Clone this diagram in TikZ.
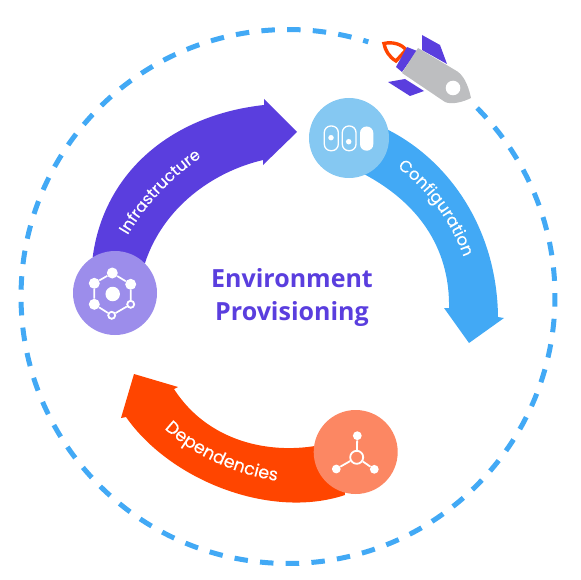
\documentclass[tikz,border=0pt]{standalone}
\usepackage{fontspec}
\usetikzlibrary{decorations.text}
\newfontfamily\titlefont{Open Sans}
\newfontfamily\labelfont[FakeBold=0.15]{Poppins}
\definecolor{violet1}{HTML}{5A3EDE}
\definecolor{violet2}{HTML}{9C8DEB}
\definecolor{sky1}{HTML}{42A9F5}
\definecolor{sky2}{HTML}{85C8F2}
\definecolor{fire1}{HTML}{FF4500}
\definecolor{fire2}{HTML}{FC8763}
\definecolor{rocketgray}{HTML}{BDBEC0}
\tikzset{
  badge/.style={circle,inner sep=0pt,minimum size=#1},
  dotw/.style={circle,fill=white,inner sep=0pt,minimum size=#1},
  ringw/.style={circle,draw=white,line width=1.8pt,inner sep=0pt,minimum size=#1},
  link/.style={white,line width=1.7pt},
  caps/.style={draw=white,line width=1.3pt,rounded corners=6.5pt},
  curved/.style={decorate,decoration={text along path,text align=center,text={#1}}},
}
\begin{document}
\begin{tikzpicture}[x=1pt,y=-1pt]
\useasboundingbox (0,0) rectangle (580,580);
% dashed orbit
\draw[sky1,line width=5pt,dash pattern=on 13.5pt off 12.23pt]
  (288,296.5) ++(-44.9:267) arc[start angle=-44.9,end angle=287.5,radius=267];
% arrows
\fill[violet1] (92.7,257) .. controls (104,172) and (172,115) .. (264,105)
  -- (264,99) -- (297,132) -- (263,165) -- (263,160)
  .. controls (212,172) and (163,208) .. (145,263) -- cycle;
\fill[sky1] (380,126) .. controls (445,155) and (497,225) .. (498,317)
  -- (504,318) -- (469,343) -- (444,308) -- (449,308)
  .. controls (450,255) and (425,205) .. (360,172) -- cycle;
\fill[fire1] (340,440) .. controls (285,458) and (212,448) .. (174,389)
  -- (178,387) -- (134,374) -- (121,418) -- (126,417)
  .. controls (170,480) and (270,520) .. (345,495) -- cycle;
% badges
\node[badge=84pt,fill=violet2] (infra) at (115,293) {};
\node[badge=80pt,fill=sky2] (config) at (349,138) {};
\node[badge=84pt,fill=fire2] (deps) at (355.7,452) {};
% infrastructure icon
\node[dotw=11pt] (h1) at (112.3,273) {};
\node[dotw=11pt] (h2) at (130.7,284.3) {};
\node[ringw=7pt,fill=violet2] (h3) at (130.7,304.3) {};
\node[ringw=7pt,fill=violet2] (h4) at (111.7,315.3) {};
\node[dotw=11pt] (h5) at (94.3,304.3) {};
\node[dotw=11pt] (h6) at (94.3,283.3) {};
\draw[link] (h1)--(h2) (h2)--(h3) (h3)--(h4) (h4)--(h5) (h5)--(h6) (h6)--(h1);
\node[dotw=14.5pt] (hc) at (112.7,294) {};
% configuration icon
\draw[caps] (324.3,126) rectangle (338.3,150.7);
\draw[caps] (342.3,126) rectangle (356,150.7);
\fill[white,rounded corners=6.5pt] (360,126.5) rectangle (373.3,150.7);
\node[dotw=5.5pt] (c1) at (331,137.7) {};
\node[dotw=5.5pt] (c2) at (348.7,141.7) {};
% dependencies icon
\node[ringw=13pt] (dc) at (356.7,457.3) {};
\node[dotw=8.8pt] (d1) at (357.3,435.7) {};
\node[dotw=8.8pt] (d2) at (336.3,469) {};
\node[dotw=8.8pt] (d3) at (374.3,469.3) {};
\draw[link,line width=1.8pt] (dc)--(d1) (dc)--(d2) (dc)--(d3);
% labels on arrows
\path[curved={|\labelfont\fontsize{16}{16}\selectfont\color{white}|Infrastructure}]
  (125,240) .. controls (141,211) and (168,179) .. (206,154);
\path[curved={|\labelfont\fontsize{16.5}{16.5}\selectfont\color{white}|Configuration}]
  (394,165) .. controls (427,188) and (452,222) .. (465,261);
\path[curved={|\labelfont\fontsize{17.5}{17.5}\selectfont\color{white}|Dependencies}]
  (158,422) .. controls (185,452) and (237,477) .. (286,482);
% title
\node[font=\titlefont\bfseries\fontsize{25}{25}\selectfont,text=violet1,anchor=base] (t1) at (292,287) {Environment};
\node[font=\titlefont\bfseries\fontsize{25}{25}\selectfont,text=violet1,anchor=base] (t2) at (292,320) {Provisioning};
% rocket
\fill[violet1] (422,35)--(440,45)--(447,64)--(422,50)--cycle;
\fill[violet1] (388,82)--(405,79)--(424,91)--(410,96)--cycle;
\draw[fire1,line width=3.4pt,fill=white] (384,43.5) .. controls (392,41.5) and (402,44) .. (406,50)
  -- (396,61) .. controls (389,57) and (385,50) .. cycle;
\fill[violet1] (407,47)--(417,51)--(402,72)--(396,67)--cycle;
\fill[rocketgray] (418,48)--(455,70) .. controls (463,74) and (468,84) .. (471,98)
  .. controls (463,102) and (452,105) .. (445,102) -- (402,73) -- cycle;
\fill[white] (453,88) circle[radius=7.3];
\end{tikzpicture}
\end{document}
